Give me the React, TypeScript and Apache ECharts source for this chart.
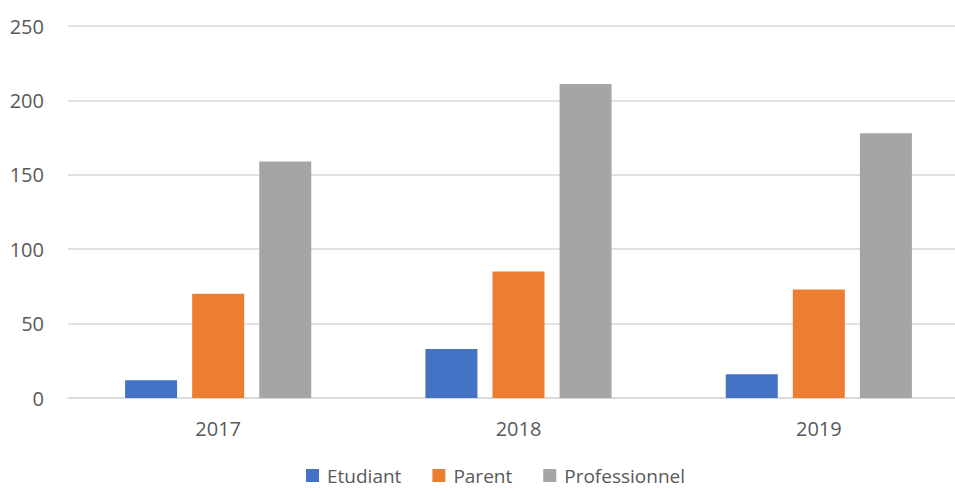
import React, { useEffect, useRef } from "react";
import * as echarts from "echarts";

const categories = ["2017", "2018", "2019"];
const etudiant = [12, 33, 16];
const parent = [70, 85, 73];
const professionnel = [159, 211, 178];
const seriesNames = ["Etudiant", "Parent", "Professionnel"];
const colors = ["#4472C4", "#ED7D31", "#A5A5A5"];

export default function App() {
  const ref = useRef<HTMLDivElement>(null);
  useEffect(() => {
    if (!ref.current) return;
    const chart = echarts.init(ref.current, null, { renderer: "svg" });
    const font = "'Open Sans', 'Noto Sans', sans-serif";
    const data = [etudiant, parent, professionnel];
    chart.setOption({
      animation: false,
      color: colors,
      textStyle: { fontFamily: font },
      grid: { left: 68, right: 6, top: 26, bottom: 93, containLabel: false },
      legend: {
        top: 461,
        left: 301,
        padding: 5,
        itemWidth: 13,
        itemHeight: 13,
        itemGap: 31,
        icon: "rect",
        textStyle: { fontSize: 19, lineHeight: 16, color: "#595959", fontFamily: font, padding: [0, 0, 0, 3] },
        data: seriesNames,
      },
      xAxis: {
        type: "category",
        data: categories,
        axisLine: { show: true, lineStyle: { color: "#D9D9D9", width: 1.5 } },
        axisTick: { show: false },
        axisLabel: { fontSize: 20, color: "#595959", margin: 20, fontFamily: font },
      },
      yAxis: {
        type: "value",
        min: 0,
        max: 250,
        interval: 50,
        axisLine: { show: false },
        axisTick: { show: false },
        splitLine: { lineStyle: { color: "#D9D9D9", width: 1.5 } },
        axisLabel: { fontSize: 20, color: "#595959", margin: 24, fontFamily: font },
      },
      series: seriesNames.map((name, i) => ({
        name,
        type: "bar",
        data: data[i],
        barWidth: 52,
        barGap: "29%",
        itemStyle: { color: colors[i] },
      })),
    });
    return () => chart.dispose();
  }, []);
  return (
    <div style={{ width: 955, height: 491, position: "absolute", left: 0, top: 0, overflow: "hidden" }}>
      <div ref={ref} style={{ width: 975, height: 491 }} />
    </div>
  );
}
